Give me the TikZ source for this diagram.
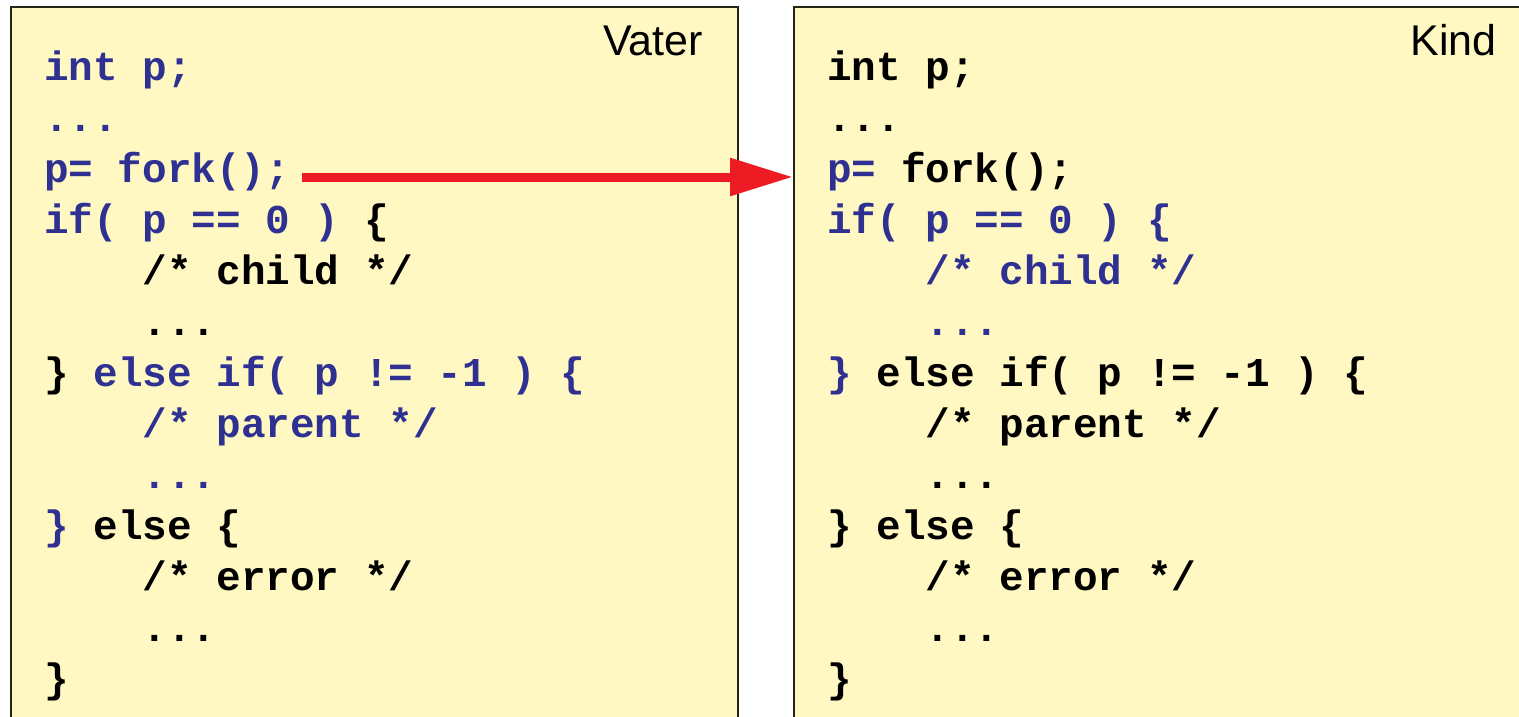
\documentclass[tikz,border=0pt]{standalone}
\usepackage{fontspec}
\setmonofont{Liberation Mono}
\setsansfont{Liberation Sans}
\usetikzlibrary{arrows.meta}
\definecolor{kw}{RGB}{46,49,146}
\definecolor{paper}{RGB}{255,248,194}
\definecolor{rim}{RGB}{40,36,20}
\definecolor{fred}{RGB}{237,28,36}
\newcommand{\ind}{\hphantom{0000}}
\begin{document}
\begin{tikzpicture}[x=1pt,y=-1pt,
  panel/.style={draw=rim, line width=1.5pt, fill=paper, anchor=north west,
    inner sep=0pt, minimum height=760pt},
  code/.style={anchor=base west, inner sep=0pt,
    font=\ttfamily\bfseries\fontsize{41}{41}\selectfont},
  title/.style={anchor=base east, inner sep=0pt,
    font=\sffamily\fontsize{43}{43}\selectfont},
  forkarrow/.style={draw=fred, line width=9pt,
    -{Triangle[length=63pt,width=36pt]}, fill=fred}]
\useasboundingbox (0,0) rectangle (1519,716);
\clip (0,0) rectangle (1519,716);

% the two process panels
\node[panel, minimum width=727pt] (vater) at (10,6) {};
\node[panel, minimum width=760pt] (kind) at (793,6) {};

\node[title] (vt) at (703,55) {Vater};
\node[title] (kt) at (1497,55) {Kind};

% parent's code
\node[code] (v1)  at (44,80)  {\color{kw}int p;};
\node[code] (v2)  at (44,131) {\color{kw}...};
\node[code] (v3)  at (44,182) {\color{kw}p= fork();};
\node[code] (v4)  at (44,233) {{\color{kw}if( p == 0 ) }\{};
\node[code] (v5)  at (44,284) {\ind/* child */};
\node[code] (v6)  at (44,335) {\ind...};
\node[code] (v7)  at (44,386) {\} {\color{kw}else if( p != -1 ) \{}};
\node[code] (v8)  at (44,437) {\ind{\color{kw}/* parent */}};
\node[code] (v9)  at (44,488) {\ind{\color{kw}...}};
\node[code] (v10) at (44,539) {{\color{kw}\}} else \{};
\node[code] (v11) at (44,590) {\ind/* error */};
\node[code] (v12) at (44,641) {\ind...};
\node[code] (v13) at (44,692) {\}};

% child's code
\node[code] (k1)  at (827,80)  {int p;};
\node[code] (k2)  at (827,131) {...};
\node[code] (k3)  at (827,182) {{\color{kw}p=} fork();};
\node[code] (k4)  at (827,233) {\color{kw}if( p == 0 ) \{};
\node[code] (k5)  at (827,284) {\ind{\color{kw}/* child */}};
\node[code] (k6)  at (827,335) {\ind{\color{kw}...}};
\node[code] (k7)  at (827,386) {{\color{kw}\}} else if( p != -1 ) \{};
\node[code] (k8)  at (827,437) {\ind/* parent */};
\node[code] (k9)  at (827,488) {\ind...};
\node[code] (k10) at (827,539) {\} else \{};
\node[code] (k11) at (827,590) {\ind/* error */};
\node[code] (k12) at (827,641) {\ind...};
\node[code] (k13) at (827,692) {\}};

% fork() creates the child
\coordinate (fs) at ([xshift=12pt,yshift=5pt]v3.base east);
\draw[forkarrow] (fs) -- (kind.west |- fs);
\end{tikzpicture}
\end{document}
